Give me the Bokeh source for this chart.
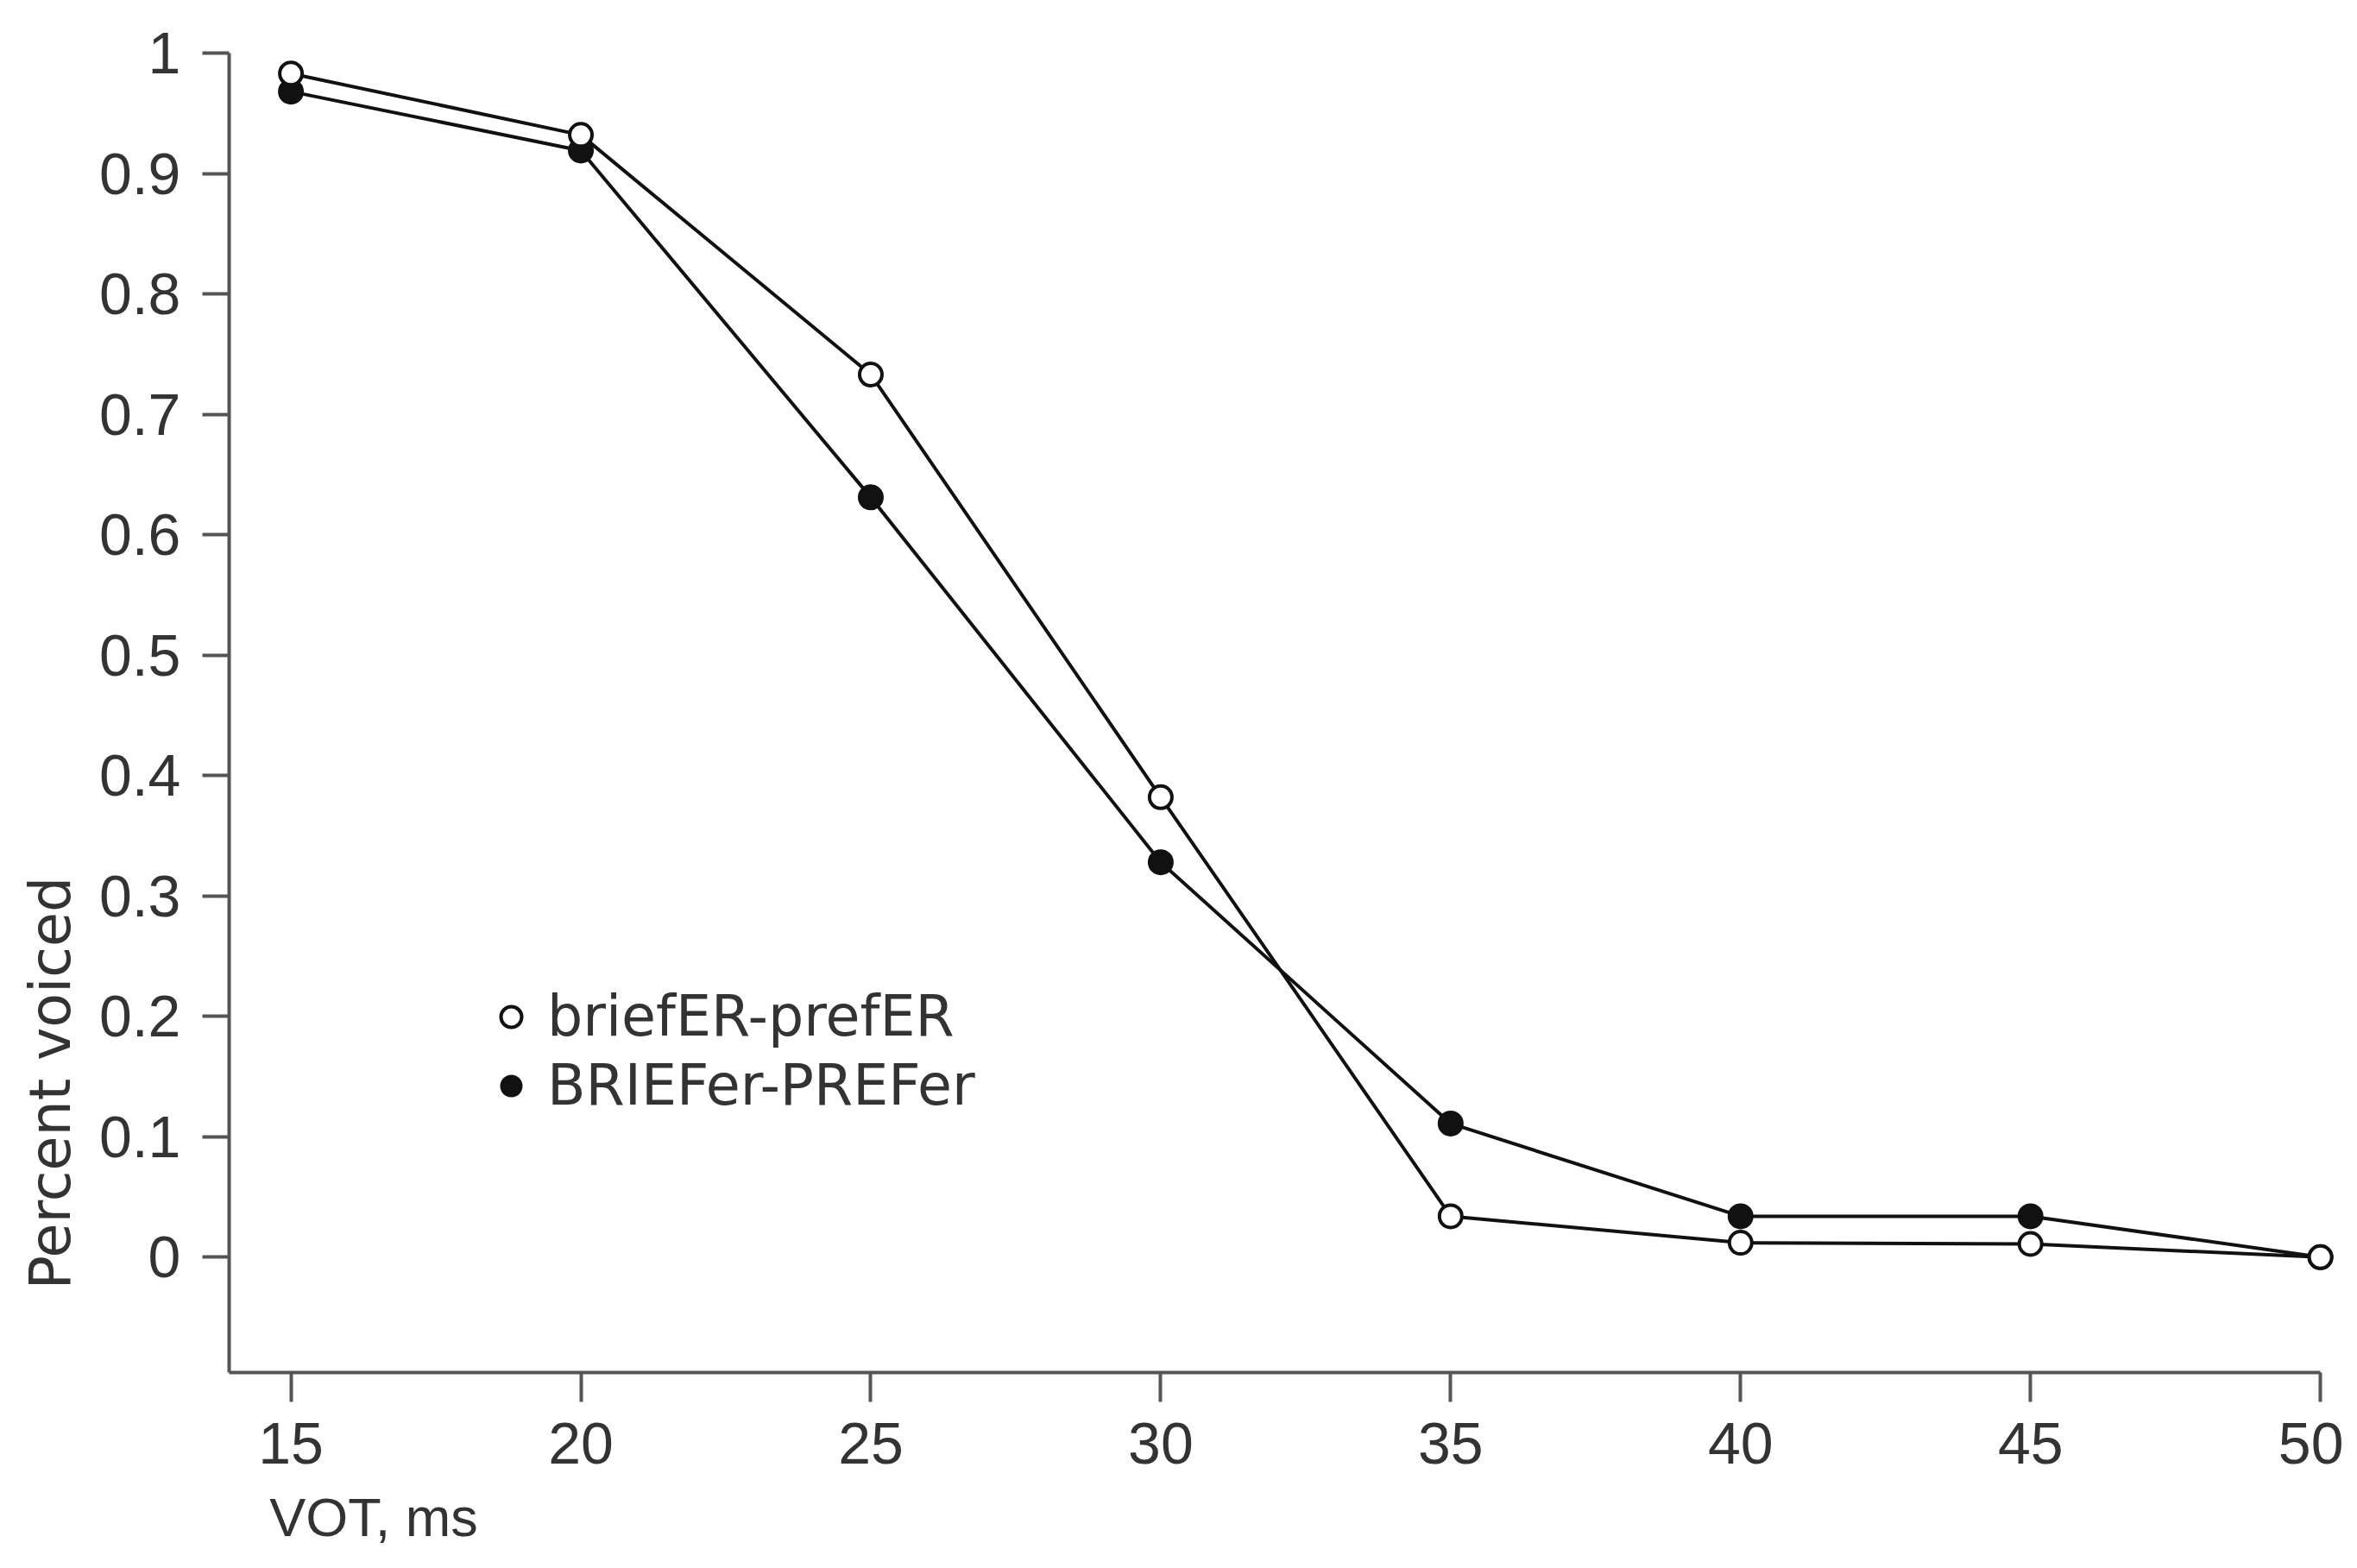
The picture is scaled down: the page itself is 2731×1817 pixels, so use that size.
import math
from bokeh.plotting import figure
from bokeh.models import FixedTicker, Range1d, Legend, LegendItem, Label
from bokeh.embed import file_html
from bokeh.resources import INLINE

# ---- data ----
vot_ms = [15, 20, 25, 30, 35, 40, 45, 50]
briefER_prefER = [0.983, 0.932, 0.733, 0.382, 0.034, 0.012, 0.011, 0.0]
BRIEFer_PREFer = [0.968, 0.919, 0.631, 0.328, 0.111, 0.034, 0.034, 0.0]
series_labels = ["briefER-prefER", "BRIEFer-PREFer"]
x_ticks = [15, 20, 25, 30, 35, 40, 45, 50]
y_ticks = [0, 0.1, 0.2, 0.3, 0.4, 0.5, 0.6, 0.7, 0.8, 0.9, 1]
y_tick_labels = ["0", "0.1", "0.2", "0.3", "0.4", "0.5", "0.6", "0.7", "0.8", "0.9", "1"]
x_title = "VOT, ms"
y_title = "Percent voiced"

# ---- layout / style ----
TEXT = "#333333"
AXIS = "#555555"
INK = "#111111"
X_AXIS_AT = -0.0958     # where the x axis crosses (data units)
Y_AXIS_AT = 13.933      # where the y axis crosses (data units)

p = figure(width=2715, height=1801,
           x_range=Range1d(9.99, 50.40), y_range=Range1d(-0.247, 1.0437),
           output_backend="svg", toolbar_location=None,
           min_border=0, min_border_left=0, min_border_right=0,
           min_border_top=0, min_border_bottom=0)
p.xgrid.visible = False
p.ygrid.visible = False
p.outline_line_color = None
p.background_fill_color = "white"
p.border_fill_color = "white"

# axes drawn at fixed data positions inside the frame
xa = p.xaxis[0]
xa.fixed_location = X_AXIS_AT
xa.bounds = (Y_AXIS_AT, 50)
xa.ticker = FixedTicker(ticks=x_ticks)
ya = p.yaxis[0]
ya.fixed_location = Y_AXIS_AT
ya.bounds = (X_AXIS_AT, 1.0)
ya.ticker = FixedTicker(ticks=y_ticks)
ya.major_label_overrides = {t: lab for t, lab in zip(y_ticks, y_tick_labels)}
for ax in (xa, ya):
    ax.axis_line_color = AXIS
    ax.axis_line_width = 4
    ax.major_tick_line_color = AXIS
    ax.major_tick_line_width = 4
    ax.major_tick_in = 0
    ax.minor_tick_line_color = None
    ax.major_label_text_font = "Liberation Sans"
    ax.major_label_text_font_size = "68px"
    ax.major_label_text_color = TEXT
xa.major_tick_out = 34
xa.major_label_standoff = 24
ya.major_tick_out = 31
ya.major_label_standoff = 25

# series
p.line(vot_ms, BRIEFer_PREFer, line_color=INK, line_width=4)
p.line(vot_ms, briefER_prefER, line_color=INK, line_width=4)
r_filled = p.scatter(vot_ms, BRIEFer_PREFer, marker="circle", size=28,
                     fill_color=INK, line_color=INK, line_width=2)
r_open = p.scatter(vot_ms, briefER_prefER, marker="circle", size=26,
                   fill_color="white", line_color=INK, line_width=4)

legend = Legend(items=[LegendItem(label=series_labels[0], renderers=[r_open]),
                       LegendItem(label=series_labels[1], renderers=[r_filled])],
                location=(562, 506), orientation="vertical",
                padding=0, margin=0, spacing=5,
                glyph_width=60, glyph_height=60, label_height=60,
                label_standoff=12,
                border_line_color=None, background_fill_alpha=0,
                label_text_font="DejaVu Sans", label_text_font_size="65px",
                label_text_color=TEXT)
p.add_layout(legend, "center")

# axis titles
p.add_layout(Label(x=14.631, y=-0.216, text=x_title, text_align="left",
                   text_baseline="middle", text_font="Liberation Sans",
                   text_font_size="63px", text_color=TEXT))
p.add_layout(Label(x=10.848, y=0.1446, text=y_title, angle=math.pi / 2,
                   text_align="center", text_baseline="middle",
                   text_font="DejaVu Sans", text_font_size="65px",
                   text_color=TEXT))

open("out.html", "w").write(file_html(p, INLINE))
